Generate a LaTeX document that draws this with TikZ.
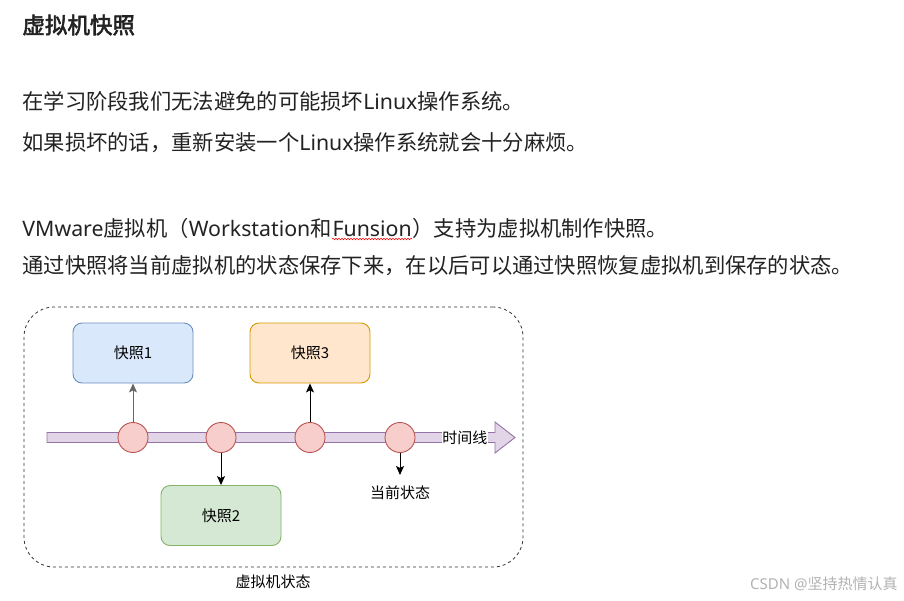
\documentclass[tikz,border=0pt]{standalone}
\usepackage{fontspec}
\setmainfont{Noto Sans CJK SC}[AutoFakeBold=2.5]
\newfontfamily\latinfont{Noto Sans}
\newcommand\lat[1]{{\latinfont #1}}
\usetikzlibrary{positioning, arrows.meta, decorations.pathmorphing}

\definecolor{boxblue}{HTML}{DAE8FC}
\definecolor{lineblue}{HTML}{6C8EBF}
\definecolor{boxorange}{HTML}{FFE6CC}
\definecolor{lineorange}{HTML}{D79B00}
\definecolor{boxgreen}{HTML}{D5E8D4}
\definecolor{linegreen}{HTML}{82B366}
\definecolor{dotred}{HTML}{F8CECC}
\definecolor{linered}{HTML}{B85450}
\definecolor{barpurple}{HTML}{E1D5E7}
\definecolor{linepurple}{HTML}{9673A6}
\definecolor{bodygray}{HTML}{222222}

\tikzset{
    bodytext/.style={
        anchor=base west,
        inner sep=0pt,
        font=\fontsize{21.3}{25}\selectfont,
        text=bodygray
    },
    snapbox/.style={
        rounded corners=9pt,
        minimum width=120pt,
        minimum height=60pt,
        inner sep=0pt,
        font=\fontsize{15}{18}\selectfont
    },
    stateball/.style={
        circle,
        minimum size=30pt,
        inner sep=0pt,
        fill=dotred,
        draw=linered
    }
}

\begin{document}
\begin{tikzpicture}[
    x=1pt, y=-1pt,
    line width=0.9pt,
    >={Stealth[length=9pt, width=8pt, inset=2pt]},
    font=\fontsize{15}{18}\selectfont,
    every node/.style={align=center}
]

\useasboundingbox (0,0) rectangle (904,600);

% =================================================
% TEXT OBEN
% =================================================

\node[
    bodytext,
    font=\fontsize{22.5}{26}\selectfont\bfseries
] (title) at (22,33.5)
{虚拟机快照};

\node[bodytext] (line1) at (22,109.5)
{在学习阶段我们无法避免的可能损坏\lat{Linux}操作系统。};

\node[bodytext] (line2) at (22,150)
{如果损坏的话，重新安装一个\lat{Linux}操作系统就会十分麻烦。};

\node[bodytext] (line3a) at (22,236.5)
{\lat{VMware}虚拟机（\lat{Workstation}和};

\node[bodytext] (funsion) at (line3a.base east)
{\lat{Funsion}};

\node[bodytext] (line3b) at (funsion.base east)
{）支持为虚拟机制作快照。};

% spell check wave
\draw[
    red,
    line width=0.6pt,
    decorate,
    decoration={snake, amplitude=0.8pt, segment length=3pt}
] ([yshift=-2.5pt]funsion.base west) -- ([yshift=-2.5pt]funsion.base east);

\node[bodytext] (line4) at (22,273)
{通过快照将当前虚拟机的状态保存下来，在以后可以通过快照恢复虚拟机到保存的状态。};

% =================================================
% DIAGRAMM
% =================================================

% Outer box
\node[
    draw=black!80,
    line width=0.8pt,
    dash pattern=on 3pt off 3pt,
    rounded corners=30pt,
    minimum width=499pt,
    minimum height=260pt
] (vmbox) at (273.5,437)
{};

\node (vmlabel) at (273,582)
{虚拟机状态};

% Timeline
\draw[
    fill=barpurple,
    draw=linepurple
] (47,432.5) -- (495,432.5) -- (495,422) -- (515,437.5)
  -- (495,453) -- (495,442.5) -- (47,442.5) -- cycle;

\node[
    anchor=west,
    fill=white,
    inner sep=0.5pt
] (timelabel) at (441.5,437.5)
{时间线};

% States
\foreach \x/\n in {133/1, 221/2, 310/3, 400/4}{
    \node[stateball] (s\n) at (\x,437.5) {};
}

% Snapshots
\node[
    snapbox,
    fill=boxblue,
    draw=lineblue
] (snap1) at (133,353)
{快照1};

\node[
    snapbox,
    fill=boxgreen,
    draw=linegreen
] (snap2) at (221,515.5)
{快照2};

\node[
    snapbox,
    fill=boxorange,
    draw=lineorange
] (snap3) at (310,353)
{快照3};

% Arrows
\draw[->, black!60] (s1) -- (snap1);
\draw[->] (s2) -- (snap2);
\draw[->] (s3) -- (snap3);

\coordinate (nowend) at (400,475);
\draw[->] (s4) -- (nowend);

\node (nowlabel) at (400,493)
{当前状态};

% Watermark
\node[
    anchor=base east,
    inner sep=0pt,
    text=black!30
] (mark) at (898,589)
{\lat{CSDN @}坚持热情认真};

\end{tikzpicture}
\end{document}
